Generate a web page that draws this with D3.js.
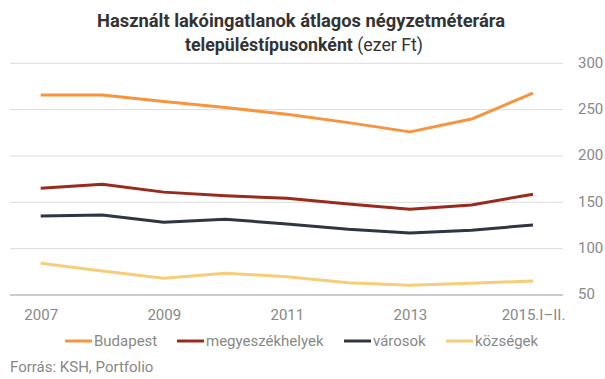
<!DOCTYPE html>
<html><head><meta charset="utf-8">
<script src="https://cdn.jsdelivr.net/npm/d3@7"></script>
<style>body{margin:0;background:#fff}svg{display:block;font-family:Roboto,sans-serif}</style>
</head><body><svg id="c" width="605" height="379"></svg>
<script>
const years = [2007, 2008, 2009, 2010, 2011, 2012, 2013, 2014, 2015];
const tickLabels = ["2007", "2009", "2011", "2013", "2015.I–II."];
const tickYears = [2007, 2009, 2011, 2013, 2015];
const seriesNames = ["Budapest", "megyeszékhelyek", "városok", "községek"];
const seriesColors = ["#f7943d", "#9a2b1c", "#2f3541", "#f6cd78"];
const budapest = [265.7, 265.7, 258.8, 252.3, 245, 236, 226, 239.8, 267.8];
const megyeszekhelyek = [165.2, 169.5, 161, 157, 154.4, 148.3, 142.5, 147.2, 158.7];
const varosok = [135.3, 136.4, 128.5, 131.8, 126.7, 121, 117, 119.9, 125.6];
const kozsegek = [84.2, 76, 68, 73.4, 69.8, 63.3, 60.5, 62.6, 65.1];
const yTicks = [50, 100, 150, 200, 250, 300];
const allSeries = [budapest, megyeszekhelyek, varosok, kozsegek];

const svg = d3.select("#c");
const x = d3.scaleLinear().domain([2007, 2015]).range([40.7, 533]);
const y = d3.scaleLinear().domain([50, 300]).range([295, 63.3]);

// title
svg.append("text").attr("x", 301).attr("y", 27).attr("text-anchor", "middle")
  .attr("font-size", 18).attr("font-weight", "bold").attr("fill", "#333")
  .attr("textLength", 408).attr("lengthAdjust", "spacingAndGlyphs")
  .text("Használt lakóingatlanok átlagos négyzetméterára");
const t2 = svg.append("text").attr("x", 304).attr("y", 51).attr("text-anchor", "middle")
  .attr("font-size", 18).attr("fill", "#333")
  .attr("textLength", 238).attr("lengthAdjust", "spacingAndGlyphs");
t2.append("tspan").attr("font-weight", "bold").text("településtípusonként ");
t2.append("tspan").text("(ezer Ft)");

// gridlines
svg.append("g").selectAll("line").data(yTicks.filter(d => d > 50)).join("line")
  .attr("x1", 10).attr("x2", 563).attr("y1", d => y(d)).attr("y2", d => y(d))
  .attr("stroke", "#dcdcdc").attr("stroke-width", 1);
svg.append("line").attr("x1", 10).attr("x2", 563).attr("y1", y(50)).attr("y2", y(50))
  .attr("stroke", "#999").attr("stroke-width", 1);

// y axis right labels
const yAxis = d3.axisRight(y).tickValues(yTicks).tickSize(0).tickPadding(0);
const gy = svg.append("g").attr("transform", "translate(578,-1)").call(yAxis);
gy.select(".domain").remove();
gy.selectAll("text").attr("font-size", 15).attr("fill", "#888").attr("font-family", "Roboto, sans-serif");

// x axis labels
const xAxis = d3.axisBottom(x).tickValues(tickYears).tickFormat((d, i) => tickLabels[i]).tickSize(0).tickPadding(0);
const gx = svg.append("g").attr("transform", "translate(0,309)").call(xAxis);
gx.select(".domain").remove();
gx.selectAll("text").attr("font-size", 15).attr("fill", "#888").attr("font-family", "Roboto, sans-serif");

// lines
const line = d3.line().x((d, i) => x(years[i])).y(d => y(d));
svg.append("g").selectAll("path").data(allSeries).join("path")
  .attr("d", line).attr("fill", "none")
  .attr("stroke", (d, i) => seriesColors[i]).attr("stroke-width", 3)
  .attr("stroke-linejoin", "round");

// legend
const legX = [65, 177, 344, 446];
const leg = svg.append("g").selectAll("g").data(seriesNames).join("g")
  .attr("transform", (d, i) => `translate(${legX[i]},341)`);
leg.append("line").attr("x1", 0).attr("x2", 27).attr("y1", 0).attr("y2", 0)
  .attr("stroke", (d, i) => seriesColors[i]).attr("stroke-width", 3);
leg.append("text").attr("x", 29).attr("y", 0).attr("dy", "0.35em")
  .attr("font-size", 15).attr("fill", "#888").text(d => d);

// source
svg.append("text").attr("x", 10).attr("y", 372).attr("font-size", 15).attr("fill", "#888")
  .text("Forrás: KSH, Portfolio");
</script></body></html>
